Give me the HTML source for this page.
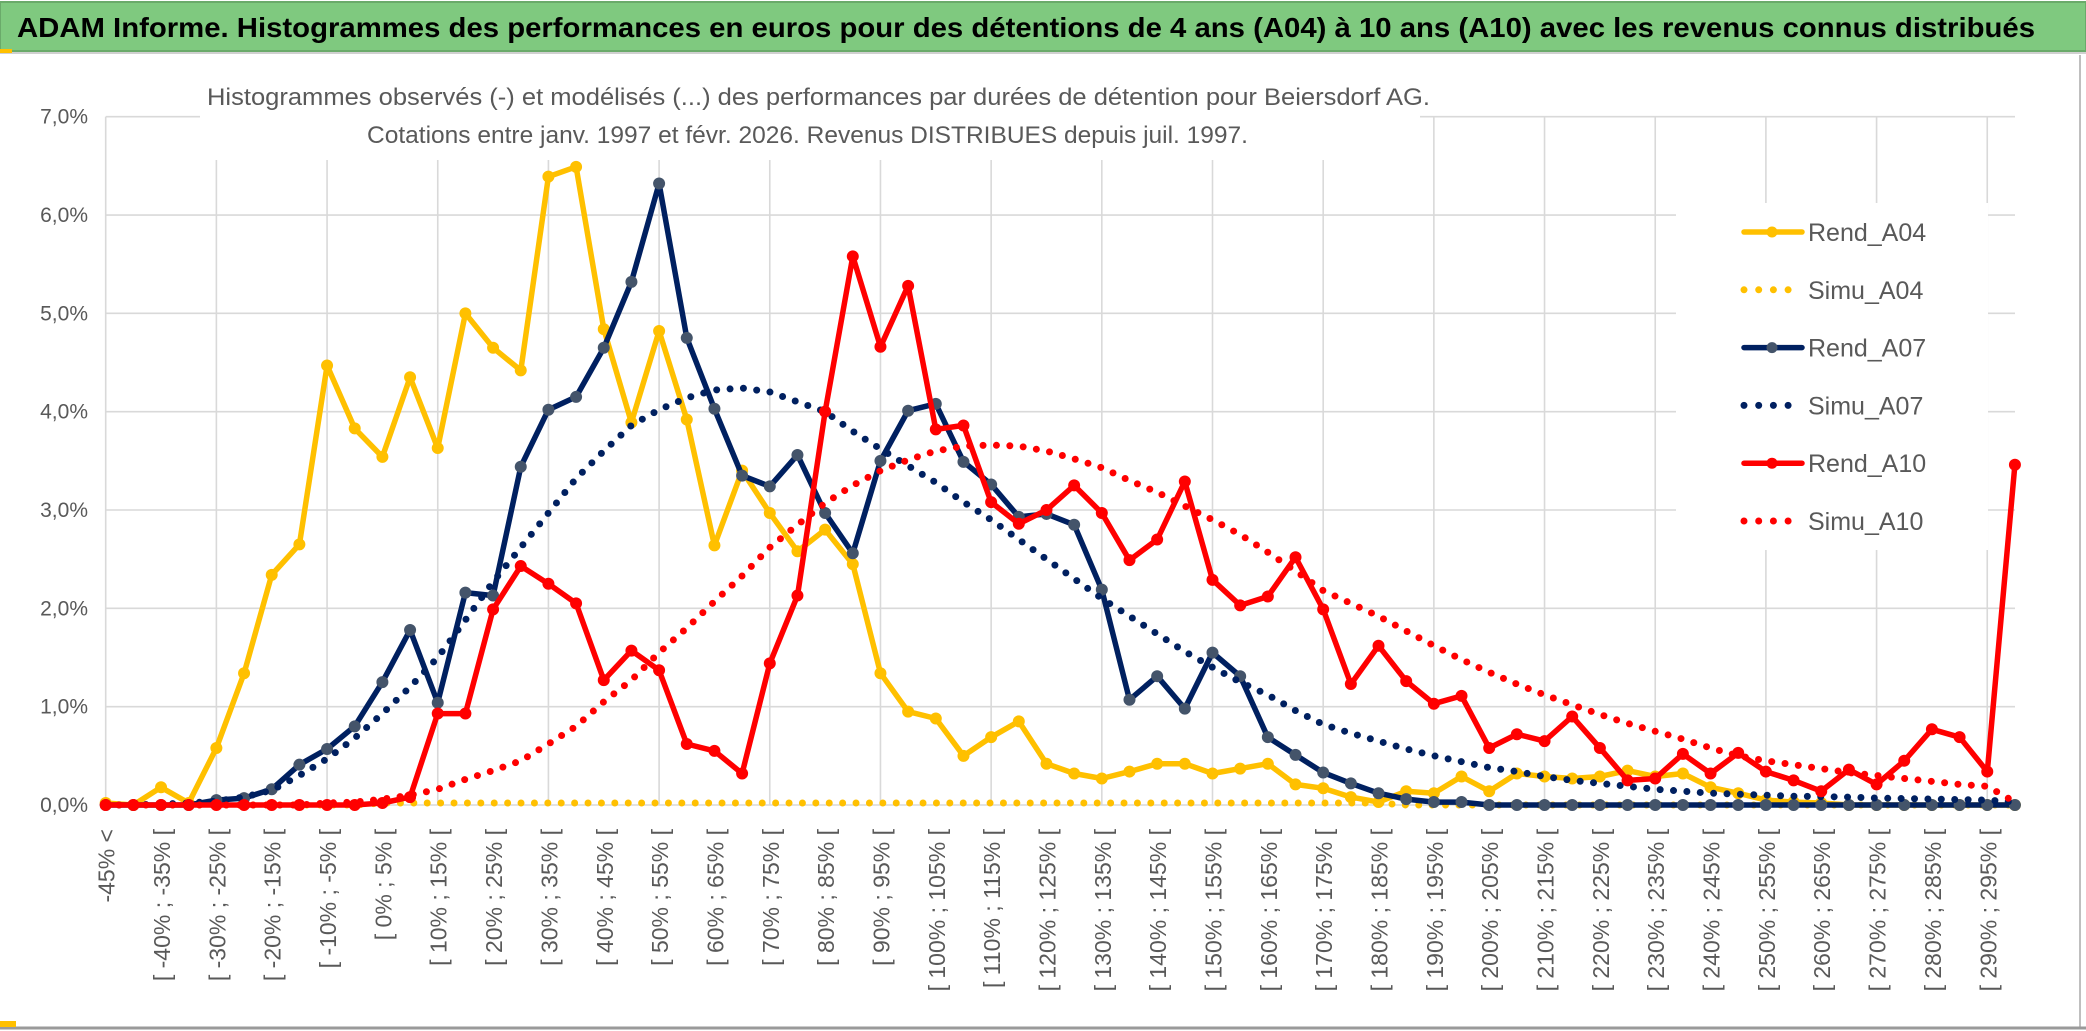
<!DOCTYPE html>
<html><head><meta charset="utf-8"><style>
html,body{margin:0;padding:0;background:#fff;width:2086px;height:1031px;overflow:hidden}
svg{display:block;font-family:"Liberation Sans",sans-serif}
</style></head><body>
<svg id="chart" width="2086" height="1031" viewBox="0 0 2086 1031" xmlns="http://www.w3.org/2000/svg">
<rect x="0" y="0" width="2086" height="1031" fill="#fff"/>
<rect x="0" y="2" width="2086" height="49" fill="#7fc97f" stroke="#6aaa6a" stroke-width="2"/>
<line x1="0" y1="53" x2="2086" y2="53" stroke="#d0d0d0" stroke-width="2"/>
<rect x="0" y="49" width="12" height="4" fill="#ffc000"/>
<text x="17" y="37" font-size="28" font-weight="bold" fill="#000" textLength="2018" lengthAdjust="spacingAndGlyphs">ADAM Informe. Histogrammes des performances en euros pour des détentions de 4 ans (A04) à 10 ans (A10) avec les revenus connus distribués</text>
<line x1="2080" y1="55" x2="2080" y2="1027" stroke="#bfbfbf" stroke-width="2"/>
<line x1="0" y1="1028" x2="2086" y2="1028" stroke="#9a9a9a" stroke-width="3"/>
<rect x="0" y="1021" width="16" height="6" fill="#ffc000"/>
<g id="grid"></g>
<g id="yaxis"></g>
<g id="xaxis"></g>
<rect x="200" y="60" width="1220" height="100" fill="#fff"/>
<text x="207" y="105" font-size="24" fill="#595959" textLength="1223" lengthAdjust="spacingAndGlyphs">Histogrammes observés (-) et modélisés (...) des performances par durées de détention pour Beiersdorf AG.</text>
<text x="367" y="143" font-size="24" fill="#595959" textLength="881" lengthAdjust="spacingAndGlyphs">Cotations entre janv. 1997 et févr. 2026. Revenus DISTRIBUES depuis juil. 1997.</text>
<g id="series"></g>
<rect x="1676" y="203" width="312" height="347" fill="#fff"/>
<g id="legend"></g>
</svg>
<script>
const categoryCount = 70;
const yTicks = [0,1,2,3,4,5,6,7];
const yTickLabels = ["0,0%","1,0%","2,0%","3,0%","4,0%","5,0%","6,0%","7,0%"];
const rendA04 = [0.02,0,0.18,0.02,0.58,1.34,2.34,2.65,4.47,3.83,3.54,4.35,3.63,5.0,4.65,4.42,6.39,6.49,4.84,3.89,4.82,3.92,2.64,3.40,2.97,2.58,2.80,2.45,1.34,0.95,0.88,0.50,0.69,0.85,0.42,0.32,0.27,0.34,0.42,0.42,0.32,0.37,0.42,0.21,0.17,0.08,0.03,0.14,0.12,0.29,0.14,0.32,0.29,0.27,0.29,0.35,0.29,0.32,0.18,0.12,0.05,0.03,0.02,0,0,0,0,0,0,0];
const simuA04 = [0,0,0,0,0,0,0,0,0,0,0.02,0.02,0.02,0.02,0.02,0.02,0.02,0.02,0.02,0.02,0.02,0.02,0.02,0.02,0.02,0.02,0.02,0.02,0.02,0.02,0.02,0.02,0.02,0.02,0.02,0.02,0.02,0.02,0.02,0.02,0.02,0.02,0.02,0.02,0.02,0.02,0.02,0,0,0,0,0,0,0,0,0,0,0,0,0,0,0,0,0,0,0,0,0,0,0];
const rendA07 = [0,0,0,0,0.05,0.07,0.16,0.41,0.57,0.80,1.25,1.78,1.04,2.16,2.13,3.44,4.02,4.15,4.65,5.32,6.32,4.75,4.03,3.35,3.24,3.56,2.97,2.56,3.50,4.01,4.08,3.49,3.26,2.93,2.96,2.85,2.19,1.07,1.31,0.98,1.55,1.31,0.69,0.51,0.33,0.22,0.12,0.06,0.03,0.03,0,0,0,0,0,0,0,0,0,0,0,0,0,0,0,0,0,0,0,0];
const simuA07 = [0,0,0.01,0.02,0.04,0.08,0.15,0.3,0.47,0.68,0.93,1.2,1.5,1.88,2.27,2.62,2.97,3.32,3.6,3.86,4.02,4.14,4.22,4.24,4.2,4.1,4.0,3.8,3.62,3.45,3.28,3.08,2.9,2.7,2.5,2.3,2.1,1.92,1.74,1.56,1.4,1.25,1.12,0.96,0.82,0.73,0.65,0.57,0.5,0.44,0.38,0.34,0.29,0.25,0.22,0.19,0.16,0.14,0.12,0.11,0.1,0.09,0.085,0.08,0.07,0.065,0.06,0.055,0.05,0.03];
const rendA10 = [0,0,0,0,0,0,0,0,0,0,0.02,0.08,0.93,0.93,1.99,2.43,2.25,2.05,1.27,1.57,1.37,0.62,0.55,0.32,1.44,2.13,4.0,5.58,4.66,5.28,3.82,3.86,3.08,2.86,3.0,3.25,2.97,2.49,2.70,3.29,2.29,2.03,2.12,2.52,1.99,1.23,1.62,1.26,1.03,1.11,0.58,0.72,0.65,0.90,0.58,0.25,0.27,0.52,0.32,0.53,0.34,0.25,0.14,0.36,0.21,0.45,0.77,0.69,0.34,3.46];
const simuA10 = [0,0,0,0,0,0,0,0,0.02,0.03,0.06,0.1,0.16,0.26,0.35,0.45,0.62,0.8,1.05,1.27,1.55,1.8,2.07,2.33,2.62,2.85,3.07,3.25,3.4,3.51,3.6,3.65,3.66,3.65,3.6,3.52,3.43,3.3,3.18,3.04,2.9,2.75,2.57,2.38,2.18,2.05,1.92,1.77,1.62,1.48,1.35,1.23,1.12,1.02,0.92,0.83,0.75,0.67,0.58,0.5,0.45,0.41,0.37,0.33,0.3,0.27,0.24,0.21,0.19,0.03];

const NS = "http://www.w3.org/2000/svg";
const X0 = 105.7, DX = 27.67, Y0 = 805, DY = 98.33, XR = 2015;
function xPos(i){ return X0 + DX*i; }
function yPos(v){ return Y0 - DY*v; }
function mk(tag, attrs, parent){ const e = document.createElementNS(NS, tag); for (const k in attrs) e.setAttribute(k, attrs[k]); parent.appendChild(e); return e; }
function catLabel(i){ if (i===0) return "-45% <"; const lo = -45 + 5*(i-1); return "[ " + lo + "% ; " + (lo+5) + "% ["; }

const grid = document.getElementById('grid');
yTicks.forEach(function(t){
  const l = mk('line', {x1:X0, x2:XR, y1:yPos(t), y2:yPos(t), stroke:'#d9d9d9', 'stroke-width':1.6}, grid);
  
  
});
for (let i=0;i<categoryCount;i+=4){
  const l = mk('line', {x1:xPos(i), x2:xPos(i), y1:yPos(7), y2:Y0, stroke:'#d9d9d9', 'stroke-width':1.6}, grid);
  
  
}
const yaxis = document.getElementById('yaxis');
yTicks.forEach(function(t, k){
  const tx = mk('text', {x:88, y:yPos(t)+7, 'text-anchor':'end', 'font-size':21, fill:'#595959'}, yaxis);
  tx.textContent = yTickLabels[k];
  
  
});
const xaxis = document.getElementById('xaxis');
for (let i=0;i<categoryCount;i+=2){
  const x = xPos(i)+9, y = 829;
  const tx = mk('text', {x:x, y:y, 'text-anchor':'end', 'font-size':23, fill:'#595959', transform:'rotate(-90 '+x+' '+y+')'}, xaxis);
  tx.textContent = catLabel(i);
  
  
}

const seriesLayer = document.getElementById('series');
const seriesDefs = [
  {name:'rend-a04', data:rendA04, color:'#ffc000', marker:'#ffc000', dotted:false},
  {name:'simu-a04', data:simuA04, color:'#ffc000', dotted:true},
  {name:'rend-a07', data:rendA07, color:'#002060', marker:'#44546a', dotted:false},
  {name:'simu-a07', data:simuA07, color:'#002060', dotted:true},
  {name:'rend-a10', data:rendA10, color:'#ff0000', marker:'#ff0000', dotted:false},
  {name:'simu-a10', data:simuA10, color:'#ff0000', dotted:true}
];
seriesDefs.forEach(function(s){
  const g = mk('g', {}, seriesLayer);
  
  
  const pts = s.data.map(function(v,i){ return xPos(i).toFixed(1)+','+yPos(v).toFixed(1); }).join(' ');
  const attrs = {points:pts, fill:'none', stroke:s.color, 'stroke-linejoin':'round', 'stroke-linecap':'round'};
  if (s.dotted){ attrs['stroke-width']=7; attrs['stroke-dasharray']='0 13.4'; }
  else { attrs['stroke-width']=5.5; }
  const pl = mk('polyline', attrs, g);
  
  
  if (!s.dotted){
    s.data.forEach(function(v,i){
      const c = mk('circle', {cx:xPos(i), cy:yPos(v), r:5.5, fill:s.marker, stroke:s.marker, 'stroke-width':1}, g);
      
      
    });
  }
});

const legend = document.getElementById('legend');
const legendItems = [
  {label:'Rend_A04', color:'#ffc000', marker:'#ffc000', dotted:false},
  {label:'Simu_A04', color:'#ffc000', dotted:true},
  {label:'Rend_A07', color:'#002060', marker:'#44546a', dotted:false},
  {label:'Simu_A07', color:'#002060', dotted:true},
  {label:'Rend_A10', color:'#ff0000', marker:'#ff0000', dotted:false},
  {label:'Simu_A10', color:'#ff0000', dotted:true}
];
legendItems.forEach(function(it, k){
  const y = 232 + k*57.8;
  const g = mk('g', {}, legend);
  
  
  if (it.dotted){
    mk('line', {x1:1744, x2:1794, y1:y, y2:y, stroke:it.color, 'stroke-width':7, 'stroke-linecap':'round', 'stroke-dasharray':'0 14.7'}, g);
  } else {
    mk('line', {x1:1744, x2:1802, y1:y, y2:y, stroke:it.color, 'stroke-width':5.5, 'stroke-linecap':'round'}, g);
    mk('circle', {cx:1772, cy:y, r:5.5, fill:it.marker}, g);
  }
  const t = mk('text', {x:1808, y:y+9, 'font-size':25, fill:'#595959'}, g);
  t.textContent = it.label;
});
</script>
</body></html>
